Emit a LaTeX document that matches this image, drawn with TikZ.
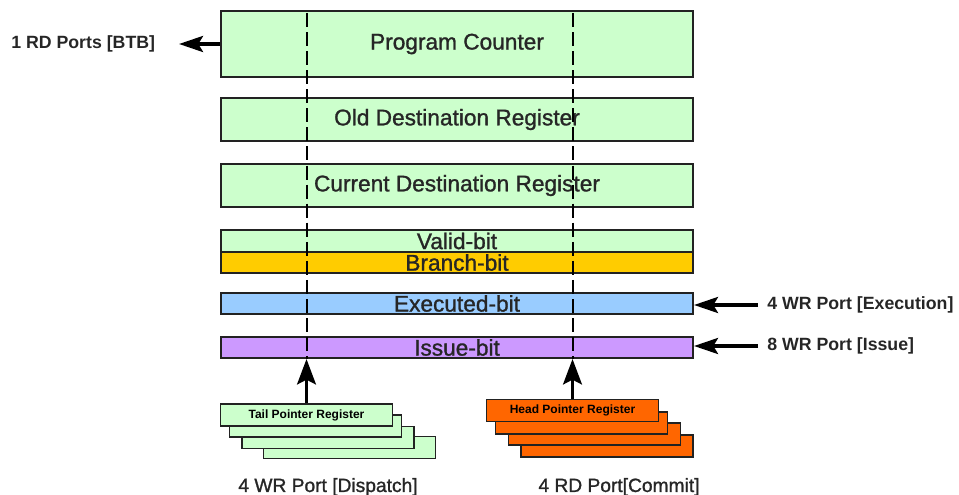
\documentclass[tikz,border=0pt]{standalone}
\usepackage{fontspec}
\setmainfont{Liberation Sans}
\newfontfamily\heavysans[FakeBold=1.2]{Liberation Sans}
\usetikzlibrary{arrows.meta}

\definecolor{regGreen}{HTML}{CCFFCC}
\definecolor{regGold}{HTML}{FFCC00}
\definecolor{regBlue}{HTML}{99CCFF}
\definecolor{regPurple}{HTML}{CC99FF}
\definecolor{regOrange}{HTML}{FF6600}
\definecolor{edge}{HTML}{222222}

\begin{document}
\begin{tikzpicture}[x=0.75pt, y=-0.75pt,
  regbox/.style={draw=edge, line width=1.5pt, inner sep=0pt, minimum width=354pt,
    font=\heavysans\fontsize{17}{20}\selectfont, text=black!85},
  ptrbox/.style={draw=edge, line width=1.4pt, inner sep=0pt, minimum width=129pt,
    minimum height=16.5pt, font=\bfseries\fontsize{9}{10}\selectfont},
  sidelbl/.style={font=\bfseries\fontsize{13.3}{16}\selectfont, inner sep=0pt, text=black!85},
  portlbl/.style={font=\heavysans\fontsize{14.4}{17}\selectfont, inner sep=0pt, text=black!85},
  dashline/.style={draw=black, line width=1.5pt, dash pattern=on 10.5pt off 3.8pt},
  port/.style={draw=black, line width=2.8pt,
    -{Stealth[length=19pt, width=14pt, inset=3.5pt]}},
  sideport/.style={draw=black, line width=2.6pt,
    -{Stealth[length=18pt, width=12pt, inset=3.5pt]}}]

\useasboundingbox (0,0) rectangle (959,495);

% register fields of one entry
\node[regbox, fill=regGreen, minimum height=49.5pt]  (pc)    at (457,44)    {Program Counter};
\node[regbox, fill=regGreen, minimum height=32.25pt] (old)   at (457,119.5) {Old Destination Register};
\node[regbox, fill=regGreen, minimum height=32.25pt] (cur)   at (457,185.5) {Current Destination Register};
\node[regbox, fill=regGreen, minimum height=16.5pt]  (valid) at (457,241)   {Valid-bit};
\node[regbox, fill=regGold,  minimum height=15.75pt] (branch) at (457,262.5) {Branch-bit};
\node[regbox, fill=regBlue,  minimum height=15.75pt] (exec)  at (457,303.5) {Executed-bit};
\node[regbox, fill=regPurple, minimum height=15.75pt] (issue) at (457,347.5) {Issue-bit};

% tail pointer register stack (back to front)
\node[ptrbox, fill=regGreen] (t4) at (349.5,447.5) {};
\node[ptrbox, fill=regGreen] (t3) at (328,437.5) {};
\node[ptrbox, fill=regGreen] (t2) at (315.5,426) {};
\node[ptrbox, fill=regGreen] (tail) at (306.5,415) {Tail Pointer Register};

% head pointer register stack (back to front)
\node[ptrbox, fill=regOrange] (h4) at (607,446) {};
\node[ptrbox, fill=regOrange] (h3) at (594.5,434) {};
\node[ptrbox, fill=regOrange] (h2) at (581.5,423) {};
\node[ptrbox, fill=regOrange] (head) at (572.5,410.5) {Head Pointer Register};

% pointer positions running through the fields
\coordinate (tailtop) at (tail.north |- 0,13);
\coordinate (headtop) at (head.north |- 0,13);
\draw[dashline] (tailtop) -- (tailtop |- issue.south);
\draw[dashline] (headtop) -- (headtop |- issue.south);

% pointer update arrows
\draw[port] (tail.north) -- (tail.north |- issue.south);
\draw[port] (head.north) -- (head.north |- issue.south);

% port labels
\node[sidelbl, anchor=west] (btb) at (11,44) {1 RD Ports [BTB]};
\coordinate (btbend) at (179,44);
\draw[sideport] (pc.west |- btbend) -- (btbend);

\node[sidelbl, anchor=west] (execport) at (767,305) {4 WR Port [Execution]};
\coordinate (execstart) at (758,305);
\draw[sideport] (execstart) -- (execstart -| exec.east);

\node[sidelbl, anchor=west] (issueport) at (767,346) {8 WR Port [Issue]};
\coordinate (issuestart) at (758,346);
\draw[sideport] (issuestart) -- (issuestart -| issue.east);

\node[portlbl] (dispatch) at (328,487) {4 WR Port [Dispatch]};
\node[portlbl] (commit) at (619,487) {4 RD Port[Commit]};

\end{tikzpicture}
\end{document}
